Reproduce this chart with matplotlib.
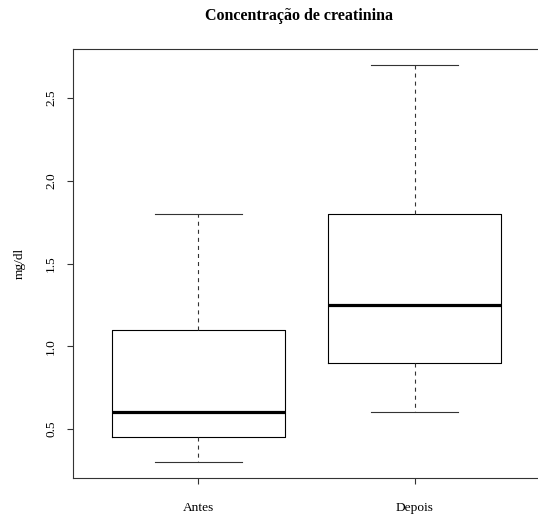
import matplotlib
matplotlib.use("Agg")
import matplotlib.pyplot as plt

plt.rcParams['font.family'] = ['Liberation Serif', 'DejaVu Serif']
plt.rcParams['lines.scale_dashes'] = False

# Five-number summaries for each group
groups = ["Antes", "Depois"]
whisker_low = [0.3, 0.6]
q1 = [0.45, 0.9]
median = [0.6, 1.25]
q3 = [1.1, 1.8]
whisker_high = [1.8, 2.7]
y_ticks = [0.5, 1.0, 1.5, 2.0, 2.5]
y_tick_labels = ["0.5", "1.0", "1.5", "2.0", "2.5"]

W, H = 538, 519
fig = plt.figure(figsize=(W / 100, H / 100), dpi=100)
ax = fig.add_axes([73 / W, 41 / H, (540 - 73) / W, (478 - 49) / H])

stats = []
for i, g in enumerate(groups):
    stats.append(dict(label=g, whislo=whisker_low[i], q1=q1[i], med=median[i],
                      q3=q3[i], whishi=whisker_high[i], fliers=[]))

lw = 0.8
ax.bxp(stats, positions=[1, 2], widths=0.8, showfliers=False,
       boxprops=dict(color='black', linewidth=lw),
       whiskerprops=dict(color='#333333', linewidth=lw, linestyle=(0, (2.9, 2.9))),
       capprops=dict(color='#333333', linewidth=lw),
       medianprops=dict(color='black', linewidth=2.3, solid_capstyle='butt'),
       capwidths=0.4)

ax.set_xlim(0.42, 2.58)
ax.set_ylim(0.204, 2.796)
ax.set_yticks(y_ticks)
ax.set_yticklabels(y_tick_labels, rotation=90, va='center', fontsize=9.6)
ax.set_xticks([1, 2])
ax.set_xticklabels(groups, fontsize=9.6)
ax.tick_params(axis='both', direction='out', length=4.5, width=0.8, color='#333333')
ax.tick_params(axis='y', pad=7)
ax.tick_params(axis='x', pad=13)
for s in ax.spines.values():
    s.set_linewidth(0.8)
    s.set_color('#333333')
ax.spines['right'].set_visible(False)

ax.set_ylabel("mg/dl", fontsize=9.6, labelpad=14)
fig.text(299 / W, 1 - 16 / H, "Concentração de creatinina",
         ha='center', va='center', fontsize=11.5, fontweight='bold')

fig.savefig("out.png", dpi=100)
